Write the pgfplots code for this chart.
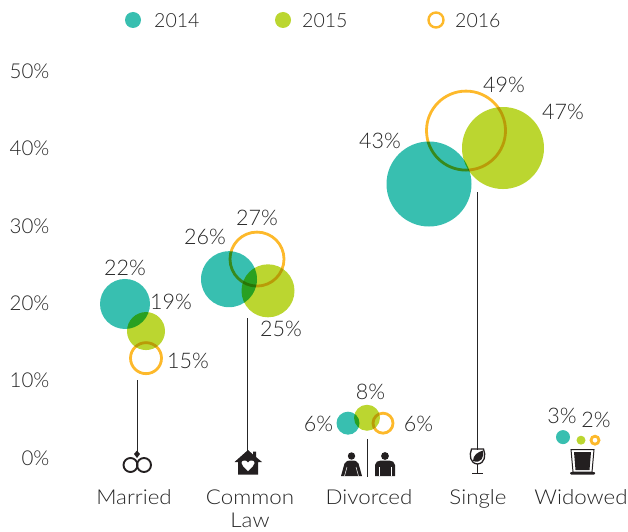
\documentclass[border=0pt]{standalone}
\usepackage{fontspec}
\setmainfont{Lato}[UprightFont=* Light]
\usepackage{pgfplots}
\usepackage{pgfplotstable}
\pgfplotsset{compat=1.18}
\definecolor{teal14}{HTML}{38BFB0}
\definecolor{lime15}{HTML}{BBD630}
\definecolor{ring16}{HTML}{FDB92B}
\definecolor{ink}{HTML}{262626}
\definecolor{icon}{HTML}{231F20}
\pgfdeclareplotmark{fdisc}{\pgfpathcircle{\pgfpointorigin}{\pgfplotmarksize}\pgfusepathqfill}
\pgfplotstableread{
x y r
125 19.9 25
229 23.1 28
348 4.5 11.5
429 35.4 42.5
563 2.7 7
}\datafourteen
\pgfplotstableread{
x y r
146 16.4 19
268 21.6 26.5
367 5.2 13
503 40.05 41
581 2.3 4.5
}\datafifteen
\pgfplotstableread{
x y r
146 12.9 15.5
257 25.7 27
383 4.5 10
466 42.3 39.5
595 2.3 4
}\datasixteen
\newcommand{\ylab}[3]{\node[text=ink,font=\fontsize{21.5}{22}\selectfont] at (axis cs:#1,{(458-#2)/7.74}) {#3};}
\begin{document}
\begin{tikzpicture}
\useasboundingbox (0,0) rectangle (628pt,531pt);
\begin{axis}[
  at={(0,0)},anchor=south west,
  scale only axis,width=628pt,height=531pt,
  xmin=0,xmax=628,ymin=-9.432,ymax=59.173,
  axis line style={draw=none},
  major tick length=0pt,
  clip=false,
  xtick={134,250,369,478,581},
  xticklabels={Married,{Common\\Law},Divorced,Single,Widowed},
  xticklabel style={anchor=north,yshift=45pt,align=center,text=ink,font=\addfontfeature{FakeStretch=1.09}\fontsize{20.5}{23.5}\selectfont},
  ytick={0,10,20,30,40,50},
  yticklabels={0\%,10\%,20\%,30\%,40\%,50\%},
  yticklabel style={anchor=east,xshift=53pt,text=ink,font=\fontsize{20.5}{22}\selectfont},
]
% vertical stems
\addplot[forget plot,ink,line width=1.1pt] coordinates {(137.5,{(458-380)/7.74}) (137.5,{(458-453)/7.74})};
\addplot[forget plot,ink,line width=1.1pt] coordinates {(247.5,{(458-318)/7.74}) (247.5,{(458-452)/7.74})};
\addplot[forget plot,ink,line width=1.1pt] coordinates {(477.5,{(458-192)/7.74}) (477.5,{(458-450)/7.74})};
\addplot[forget plot,ink,line width=1.1pt] coordinates {(367.5,{(458-439)/7.74}) (367.5,{(458-477)/7.74})};
% bubbles
\addplot[forget plot,only marks,scatter,mark=fdisc,
  scatter/use mapped color={draw=teal14,fill=teal14},
  visualization depends on={\thisrow{r} \as \rr},
  scatter/@pre marker code/.append style={/tikz/mark size=\rr},
  scatter/@pre marker code/.append code={\pgfsetblendmode{multiply}}] table[x=x,y=y] {\datafourteen};
\addplot[forget plot,only marks,scatter,mark=fdisc,
  scatter/use mapped color={draw=lime15,fill=lime15},
  visualization depends on={\thisrow{r} \as \rr},
  scatter/@pre marker code/.append style={/tikz/mark size=\rr},
  scatter/@pre marker code/.append code={\pgfsetblendmode{multiply}}] table[x=x,y=y] {\datafifteen};
\addplot[forget plot,only marks,scatter,mark=o,
  scatter/use mapped color={draw=ring16,fill=none},
  visualization depends on={\thisrow{r} \as \rr},
  scatter/@pre marker code/.append style={/tikz/mark size=\rr},
  scatter/@pre marker code/.append code={\pgfsetlinewidth{2.8pt}\pgfsetblendmode{multiply}}] table[x=x,y=y] {\datasixteen};
% value labels
\ylab{125}{268}{22\%}
\ylab{171}{302}{19\%}
\ylab{188}{361}{15\%}
\ylab{205}{237}{26\%}
\ylab{257}{218}{27\%}
\ylab{281}{329}{25\%}
\ylab{318.5}{424}{6\%}
\ylab{370.5}{392}{8\%}
\ylab{418.5}{424}{6\%}
\ylab{380}{141}{43\%}
\ylab{504}{85}{49\%}
\ylab{563}{112}{47\%}
\ylab{562}{416}{3\%}
\ylab{596}{420}{2\%}
\end{axis}
% legend and icons in picture pixels
\begin{scope}[shift={(0pt,531pt)},x=1pt,y=-1pt]
\fill[teal14] (133,20) circle (8);
\node[anchor=west,text=ink,font=\fontsize{19.5}{22}\selectfont,inner sep=0pt] at (154,20.5) {2014};
\fill[lime15] (283,20) circle (8);
\node[anchor=west,text=ink,font=\fontsize{19.5}{22}\selectfont,inner sep=0pt] at (302,20.5) {2015};
\draw[ring16,line width=2.4pt] (436,20) circle (7.5);
\node[anchor=west,text=ink,font=\fontsize{19.5}{22}\selectfont,inner sep=0pt] at (455,20.5) {2016};
% rings
\draw[icon,line width=1.9pt] (130.5,465) circle (7);
\draw[icon,line width=1.9pt] (144,465) circle (7);
\fill[icon] (137,450.5) -- (140,454) -- (137,458) -- (134,454) -- cycle;
% house
\fill[icon] (234.5,462) -- (248,450) -- (253,454.5) -- (253,451.5) -- (256,451.5) -- (256,457) -- (262,462) -- (258,462) -- (258,474.5) -- (238,474.5) -- (238,462) -- cycle;
\fill[white] (248,471) .. controls (244,467) and (241.5,465.5) .. (241.5,463) .. controls (241.5,460) and (246.5,459.5) .. (248,462.5) .. controls (249.5,459.5) and (254.5,460) .. (254.5,463) .. controls (254.5,465.5) and (252,467) .. (248,471) -- cycle;
% woman
\fill[icon] (351.5,456) circle (3.7);
\fill[icon] (341,476) -- (344.5,463.5) .. controls (345.5,461) and (348,460.5) .. (351.5,460.5) .. controls (355,460.5) and (357.5,461) .. (358.5,463.5) -- (362,476) -- cycle;
\draw[white,line width=.5pt] (347,467) -- (344.5,476) (356,467) -- (358.5,476);
% man
\fill[icon] (385,456) circle (3.9);
\fill[icon] (375,476) -- (375,465) .. controls (375,462) and (378,460.5) .. (381,460.5) -- (389,460.5) .. controls (392,460.5) and (395,462) .. (395,465) -- (395,476) -- cycle;
\draw[white,line width=.5pt] (379,467) -- (379,476) (391,467) -- (391,476);
% wine glass
\draw[icon,line width=1.3pt] (471.5,449) .. controls (469,455) and (470,463.5) .. (477.5,464) .. controls (485,463.5) and (486,455) .. (483.5,449) -- cycle;
\fill[icon] (473,461) .. controls (473,455) and (478,452) .. (483,450.5) .. controls (484.5,457) and (481,464) .. (473,461) -- cycle;
\draw[icon,line width=1.2pt] (477.5,464) -- (477.5,473.6);
\draw[icon,line width=1.2pt] (472,473.6) -- (483,473.6);
% tumbler
\draw[icon,line width=1pt] (571,449.5) -- (594,449.5) -- (592,472) -- (573,472) -- cycle;
\fill[icon] (574,452) -- (591,452) -- (589.5,470) -- (575.5,470) -- cycle;
\fill[icon,rounded corners=1pt] (570,472) rectangle (595,474.5);
\end{scope}
\end{tikzpicture}
\end{document}
